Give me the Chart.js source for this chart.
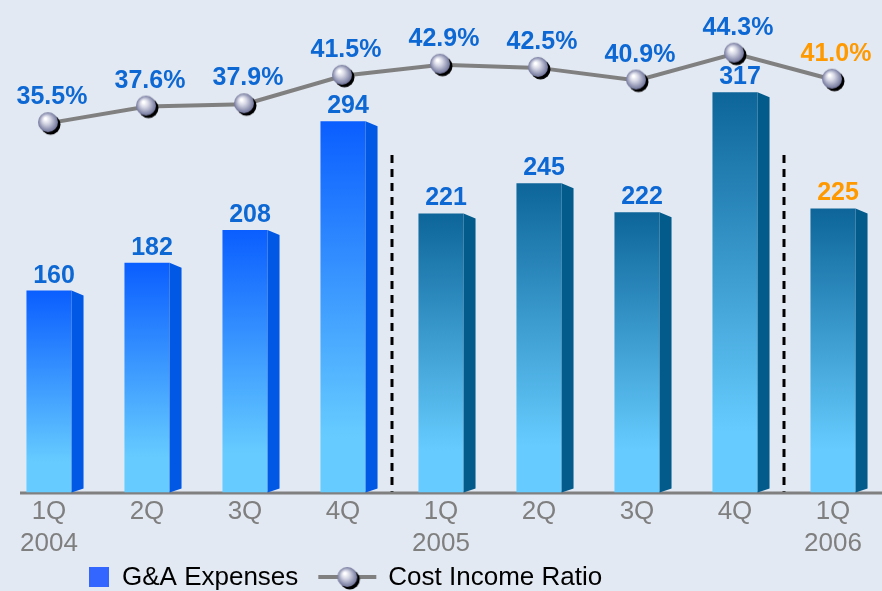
<!DOCTYPE html>
<html>
<head>
<meta charset="utf-8">
<script src="https://cdn.jsdelivr.net/npm/chart.js@4.4.1/dist/chart.umd.min.js"></script>
<style>
  html, body { margin: 0; padding: 0; background: #e3e9f2; }
  #wrap { width: 882px; height: 591px; }
</style>
</head>
<body>
<div id="wrap"><canvas id="chart"></canvas></div>
<script>
const quarters = ['1Q', '2Q', '3Q', '4Q', '1Q', '2Q', '3Q', '4Q', '1Q'];
const years = ['2004', '', '', '', '2005', '', '', '', '2006'];
const expenses = [160, 182, 208, 294, 221, 245, 222, 317, 225];
const costIncome = [35.5, 37.6, 37.9, 41.5, 42.9, 42.5, 40.9, 44.3, 41.0];
const separators = [3.5, 7.5];

const xlabels = quarters.map((q, i) => years[i] ? [q, years[i]] : q);

function topColor(i) { return i < 4 ? '#0a5eff' : '#0d6599'; }
function sideColor(i) { return i < 4 ? '#0058e4' : '#035b8b'; }
function labelColor(i) { return i === 8 ? '#ff9900' : '#0d68d4'; }

function makeSphere() {
  const c = document.createElement('canvas');
  c.width = 28; c.height = 28;
  const g = c.getContext('2d');
  g.fillStyle = '#000';
  g.beginPath(); g.arc(15.5, 15.5, 10, 0, Math.PI * 2); g.fill();
  const rg = g.createRadialGradient(10.5, 9.5, 1, 13, 13, 10.5);
  rg.addColorStop(0, '#ffffff');
  rg.addColorStop(0.35, '#d2d4e3');
  rg.addColorStop(1, '#686c93');
  g.fillStyle = rg;
  g.beginPath(); g.arc(13, 13, 10, 0, Math.PI * 2); g.fill();
  return c;
}
const sphere = makeSphere();

// side faces of the bars
const barSides = {
  id: 'barSides',
  afterDatasetDraw(chart, args) {
    if (args.index !== 0) return;
    const ctx = chart.ctx;
    args.meta.data.forEach((el, i) => {
      const x0 = el.x + el.width / 2;
      ctx.fillStyle = sideColor(i);
      ctx.beginPath();
      ctx.moveTo(x0, el.y);
      ctx.lineTo(x0 + 12, el.y + 5);
      ctx.lineTo(x0 + 12, el.base - 4);
      ctx.lineTo(x0, el.base);
      ctx.closePath();
      ctx.fill();
    });
  }
};

// baseline and dashed year separators
const guides = {
  id: 'guides',
  beforeDatasetsDraw(chart) {
    const ctx = chart.ctx;
    const x = chart.scales.x;
    const base = chart.scales.y.getPixelForValue(0);
    ctx.save();
    ctx.strokeStyle = '#000';
    ctx.lineWidth = 3;
    ctx.setLineDash([8, 6]);
    separators.forEach(s => {
      const px = (x.getPixelForValue(Math.floor(s)) + x.getPixelForValue(Math.ceil(s))) / 2;
      ctx.beginPath();
      ctx.moveTo(px, 155);
      ctx.lineTo(px, base);
      ctx.stroke();
    });
    ctx.setLineDash([]);
    ctx.strokeStyle = '#808080';
    ctx.beginPath();
    ctx.moveTo(20, base + 0.5);
    ctx.lineTo(chart.width, base + 0.5);
    ctx.stroke();
    ctx.restore();
  }
};

// value labels
const valueLabels = {
  id: 'valueLabels',
  afterDatasetsDraw(chart) {
    const ctx = chart.ctx;
    ctx.save();
    ctx.font = 'bold 25px "Liberation Sans"';
    ctx.textAlign = 'center';
    ctx.textBaseline = 'alphabetic';
    chart.getDatasetMeta(0).data.forEach((el, i) => {
      ctx.fillStyle = labelColor(i);
      ctx.fillText(expenses[i], el.x + 5, el.y - 8);
    });
    chart.getDatasetMeta(1).data.forEach((pt, i) => {
      ctx.fillStyle = labelColor(i);
      ctx.fillText(costIncome[i].toFixed(1) + '%', pt.x + 3, pt.y - 19);
    });
    ctx.restore();
  }
};

// legend at the bottom
const bottomLegend = {
  id: 'bottomLegend',
  afterDraw(chart) {
    const ctx = chart.ctx;
    const y = 577;
    ctx.save();
    ctx.font = '26px "Liberation Sans"';
    ctx.textBaseline = 'middle';
    ctx.fillStyle = '#3366ff';
    ctx.fillRect(89, y - 10, 20, 20);
    ctx.fillStyle = '#000';
    ctx.fillText('G&A Expenses', 122, y + 1);
    const lx = 122 + ctx.measureText('G&A Expenses').width + 20;
    ctx.strokeStyle = '#808080';
    ctx.lineWidth = 4;
    ctx.beginPath();
    ctx.moveTo(lx, y);
    ctx.lineTo(lx + 58, y);
    ctx.stroke();
    ctx.drawImage(sphere, lx + 29 - 13, y - 13);
    ctx.fillText('Cost Income Ratio', lx + 70, y + 1);
    ctx.restore();
  }
};

const ctx = document.getElementById('chart').getContext('2d');
const myChart = new Chart(ctx, {
  type: 'bar',
  data: {
    labels: xlabels,
    datasets: [{
      type: 'bar',
      label: 'G&A Expenses',
      data: expenses,
      yAxisID: 'y',
      order: 1,
      categoryPercentage: 1,
      barPercentage: 0.46,
      backgroundColor: c => {
        const chart = c.chart;
        const i = c.dataIndex;
        if (!chart.chartArea || i === undefined) return topColor(i || 0);
        const top = chart.scales.y.getPixelForValue(expenses[i]);
        const bottom = chart.scales.y.getPixelForValue(0);
        const g = chart.ctx.createLinearGradient(0, top, 0, bottom);
        g.addColorStop(0, topColor(i));
        g.addColorStop(0.85, '#66ccff');
        g.addColorStop(1, '#66ccff');
        return g;
      }
    }, {
      type: 'line',
      label: 'Cost Income Ratio',
      data: costIncome,
      yAxisID: 'y1',
      order: 0,
      borderColor: '#808080',
      borderWidth: 4,
      tension: 0,
      pointStyle: sphere,
      pointRadius: 10
    }]
  },
  options: {
    responsive: true,
    maintainAspectRatio: false,
    animation: false,
    layout: { autoPadding: false, padding: { left: 0, right: 0, top: 0, bottom: 28 } },
    plugins: {
      legend: { display: false },
      tooltip: { enabled: false }
    },
    scales: {
      x: {
        grid: { display: false, drawTicks: false },
        border: { display: false },
        ticks: {
          color: '#7f7f7f',
          font: { family: 'Liberation Sans', size: 26 },
          padding: 4,
          maxRotation: 0,
          autoSkip: false
        },
        afterFit: s => { s.paddingLeft = 0; s.paddingRight = 0; }
      },
      y: { display: false, min: 0, max: 390 },
      y1: { display: false, min: -11.3, max: 51.1 }
    }
  },
  plugins: [guides, barSides, valueLabels, bottomLegend]
});
</script>
</body>
</html>
